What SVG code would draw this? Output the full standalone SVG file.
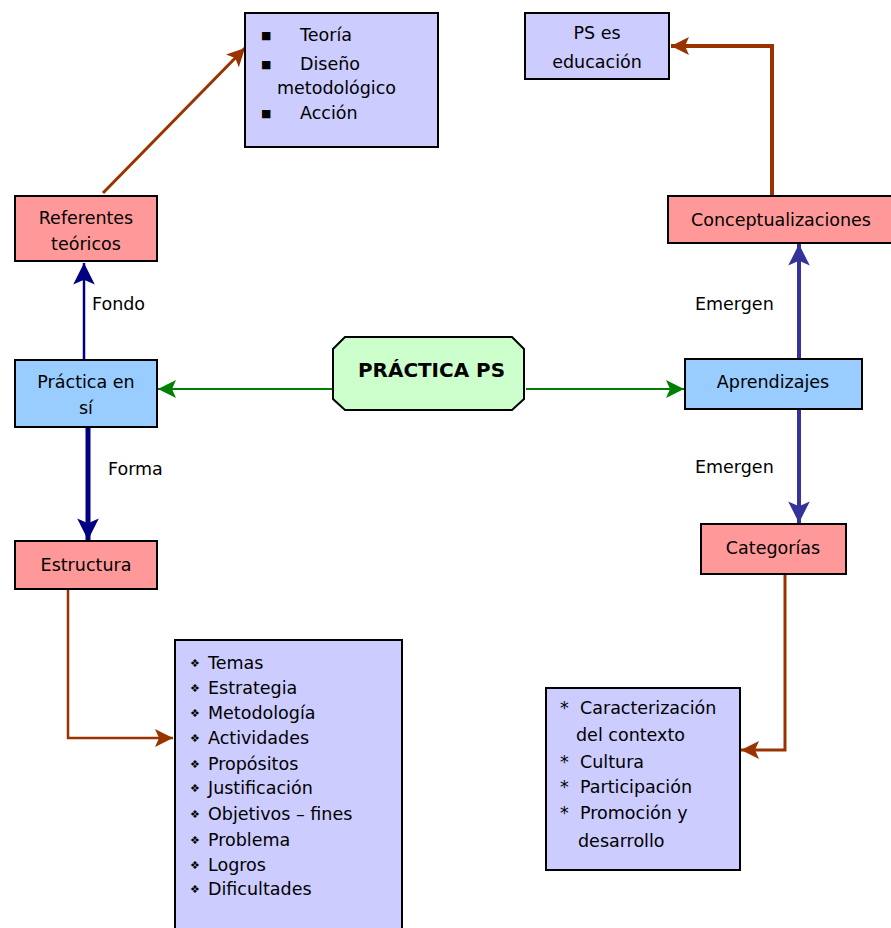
<svg xmlns="http://www.w3.org/2000/svg" width="891" height="928" viewBox="0 0 891 928">
<style>
  text { font-family: "DejaVu Sans", Verdana, sans-serif; font-size: 17.5px; fill: #000; }
  .c { text-anchor: middle; }
  .b { font-weight: bold; font-size: 19px; }
  .box { stroke: #000; stroke-width: 2; }
  .lav { fill: #ccccff; }
  .pink { fill: #ff9999; }
  .blue { fill: #99ccff; }
  .green { fill: #ccffcc; }
  .ln { fill: none; }
  .bul { font-size: 11px; }
</style>
<defs>
  <marker id="ahG" markerUnits="userSpaceOnUse" markerWidth="20" markerHeight="20" viewBox="0 0 20 20" refX="18" refY="10" orient="auto">
    <path d="M0,1 L18,10 L0,19 L4,10 Z" fill="#008000"/>
  </marker>
  <marker id="ahN" markerUnits="userSpaceOnUse" markerWidth="24" markerHeight="24" viewBox="0 0 20 20" refX="18" refY="10" orient="auto">
    <path d="M0,1 L18,10 L0,19 L4,10 Z" fill="#000080"/>
  </marker>
  <marker id="ahB" markerUnits="userSpaceOnUse" markerWidth="24" markerHeight="24" viewBox="0 0 20 20" refX="18" refY="10" orient="auto">
    <path d="M0,1 L18,10 L0,19 L4,10 Z" fill="#333399"/>
  </marker>
  <marker id="ahR" markerUnits="userSpaceOnUse" markerWidth="20" markerHeight="20" viewBox="0 0 20 20" refX="18" refY="10" orient="auto">
    <path d="M0,1 L18,10 L0,19 L4,10 Z" fill="#993300"/>
  </marker>
</defs>

<g id="connectors">
  <line x1="103" y1="193" x2="245" y2="48" stroke="#993300" stroke-width="3" marker-end="url(#ahR)"/>
  <polyline class="ln" points="772,196 772,46 671,46" stroke="#993300" stroke-width="4" marker-end="url(#ahR)"/>
  <line x1="84" y1="360" x2="84" y2="263" stroke="#000080" stroke-width="2.5" marker-end="url(#ahN)"/>
  <line x1="88" y1="427" x2="88" y2="540" stroke="#000080" stroke-width="5" marker-end="url(#ahN)"/>
  <line x1="333" y1="389" x2="158" y2="389" stroke="#008000" stroke-width="2" marker-end="url(#ahG)"/>
  <line x1="526" y1="389" x2="684" y2="389" stroke="#008000" stroke-width="2" marker-end="url(#ahG)"/>
  <line x1="799" y1="359" x2="799" y2="244" stroke="#333399" stroke-width="4" marker-end="url(#ahB)"/>
  <line x1="799" y1="409" x2="799" y2="523" stroke="#333399" stroke-width="4" marker-end="url(#ahB)"/>
  <polyline class="ln" points="68,589 68,738 173,738" stroke="#993300" stroke-width="2.5" marker-end="url(#ahR)"/>
  <polyline class="ln" points="785,574 785,750 741,750" stroke="#993300" stroke-width="3" marker-end="url(#ahR)"/>
  <text x="92" y="310">Fondo</text>
  <text x="108" y="475">Forma</text>
  <text x="695" y="310">Emergen</text>
  <text x="695" y="473">Emergen</text>
</g>

<g id="teoria">
  <rect class="box lav" x="245" y="13" width="193" height="134"/>
  <text class="bul" x="261" y="39">■</text>
  <text x="300" y="41">Teoría</text>
  <text class="bul" x="261" y="68">■</text>
  <text x="300" y="70">Diseño</text>
  <text x="277" y="94">metodológico</text>
  <text class="bul" x="261" y="117">■</text>
  <text x="300" y="119">Acción</text>
</g>

<g id="ps-educacion">
  <rect class="box lav" x="525" y="13" width="144" height="66"/>
  <text class="c" x="597" y="39">PS es</text>
  <text class="c" x="597" y="68">educación</text>
</g>

<g id="referentes">
  <rect class="box pink" x="15" y="196" width="142" height="65"/>
  <text class="c" x="86" y="224">Referentes</text>
  <text class="c" x="86" y="250">teóricos</text>
</g>

<g id="practica-en-si">
  <rect class="box blue" x="15" y="360" width="142" height="67"/>
  <text class="c" x="86" y="388">Práctica en</text>
  <text class="c" x="86" y="414">sí</text>
</g>

<g id="practica-ps">
  <path class="box green" d="M345,337 L512,337 L524,349 L524,399 L512,410 L345,410 L333,399 L333,349 Z"/>
  <text class="b" x="358" y="377" textLength="147" lengthAdjust="spacingAndGlyphs">PRÁCTICA PS</text>
</g>

<g id="estructura">
  <rect class="box pink" x="15" y="541" width="142" height="48"/>
  <text class="c" x="86" y="571">Estructura</text>
</g>

<g id="conceptualizaciones">
  <rect class="box pink" x="668" y="196" width="225" height="47"/>
  <text class="c" x="781" y="226">Conceptualizaciones</text>
</g>

<g id="aprendizajes">
  <rect class="box blue" x="685" y="359" width="177" height="50"/>
  <text class="c" x="773" y="388">Aprendizajes</text>
</g>

<g id="categorias">
  <rect class="box pink" x="701" y="524" width="145" height="50"/>
  <text class="c" x="773" y="554">Categorías</text>
</g>

<g id="lista-estructura">
  <rect class="box lav" x="175" y="640" width="227" height="290"/>
  <text class="bul" x="190" y="667">❖</text>
  <text class="bul" x="190" y="692">❖</text>
  <text class="bul" x="190" y="717">❖</text>
  <text class="bul" x="190" y="742">❖</text>
  <text class="bul" x="190" y="768">❖</text>
  <text class="bul" x="190" y="792">❖</text>
  <text class="bul" x="190" y="818">❖</text>
  <text class="bul" x="190" y="844">❖</text>
  <text class="bul" x="190" y="869">❖</text>
  <text class="bul" x="190" y="893">❖</text>
  <text x="208" y="669">Temas</text>
  <text x="208" y="694">Estrategia</text>
  <text x="208" y="719">Metodología</text>
  <text x="208" y="744">Actividades</text>
  <text x="208" y="770">Propósitos</text>
  <text x="208" y="794">Justificación</text>
  <text x="208" y="820">Objetivos – fines</text>
  <text x="208" y="846">Problema</text>
  <text x="208" y="871">Logros</text>
  <text x="208" y="895">Dificultades</text>
</g>

<g id="lista-categorias">
  <rect class="box lav" x="546" y="688" width="194" height="182"/>
  <text x="560" y="714">*</text>
  <text x="580" y="714">Caracterización</text>
  <text x="576" y="741">del contexto</text>
  <text x="560" y="768">*</text>
  <text x="580" y="768">Cultura</text>
  <text x="560" y="793">*</text>
  <text x="580" y="793">Participación</text>
  <text x="560" y="819">*</text>
  <text x="580" y="819">Promoción y</text>
  <text x="578" y="847">desarrollo</text>
</g>
</svg>
